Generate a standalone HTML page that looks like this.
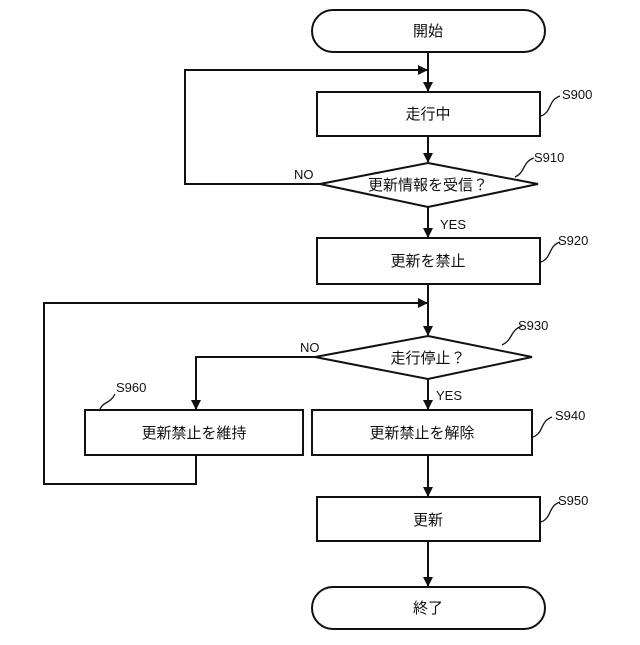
<!DOCTYPE html>
<html><head><meta charset="utf-8"><style>
html,body{margin:0;padding:0;background:#fff}
svg text{font-family:"Liberation Sans","Noto Sans CJK JP",sans-serif;fill:#111}
</style></head><body>
<svg width="640" height="640" viewBox="0 0 640 640" xmlns="http://www.w3.org/2000/svg">
<defs><marker id="a" markerWidth="10" markerHeight="10" refX="9" refY="5" orient="auto" markerUnits="userSpaceOnUse"><path d="M0,0 L10,5 L0,10 z" fill="#111"/></marker></defs>
<g stroke="#111" stroke-width="2" fill="none">
<rect x="312" y="10" width="233" height="42" rx="21"/>
<line x1="428" y1="52" x2="428" y2="91" marker-end="url(#a)"/>
<polyline points="428,184 185,184 185,70 427,70" marker-end="url(#a)"/>
<rect x="317" y="92" width="223" height="44"/>
<line x1="428" y1="136" x2="428" y2="162" marker-end="url(#a)"/>
<polygon points="428,163 538,184 428,207 320,184" fill="#fff"/>
<line x1="428" y1="207" x2="428" y2="237" marker-end="url(#a)"/>
<rect x="317" y="238" width="223" height="46"/>
<line x1="428" y1="284" x2="428" y2="335" marker-end="url(#a)"/>
<polyline points="196,455 196,484 44,484 44,303 427,303" marker-end="url(#a)"/>
<polygon points="428,336 532,357 428,379 315,357" fill="#fff"/>
<polyline points="315,357 196,357 196,409" marker-end="url(#a)"/>
<line x1="428" y1="379" x2="428" y2="409" marker-end="url(#a)"/>
<rect x="85" y="410" width="218" height="45"/>
<rect x="312" y="410" width="220" height="45"/>
<line x1="428" y1="455" x2="428" y2="496" marker-end="url(#a)"/>
<rect x="317" y="497" width="223" height="44"/>
<line x1="428" y1="541" x2="428" y2="586" marker-end="url(#a)"/>
<rect x="312" y="587" width="233" height="42" rx="21"/>
<g stroke-width="1.3">
<path d="M541,116 C552,112 548,100 560,96"/>
<path d="M515,177 C526,172 522,162 534,158"/>
<path d="M541,262 C552,258 548,246 560,242"/>
<path d="M502,345 C513,340 510,330 522,326"/>
<path d="M533,437 C544,433 540,421 552,417"/>
<path d="M541,522 C552,518 548,506 560,502"/>
<path d="M100,409 C104,401 110,404 115,394"/>
</g>
</g>
<g font-size="15" text-anchor="middle">
<text x="428" y="36">開始</text>
<text x="428" y="119">走行中</text>
<text x="428" y="190">更新情報を受信？</text>
<text x="428" y="266">更新を禁止</text>
<text x="428" y="363">走行停止？</text>
<text x="194" y="438">更新禁止を維持</text>
<text x="422" y="438">更新禁止を解除</text>
<text x="428" y="525">更新</text>
<text x="428" y="613">終了</text>
</g>
<g font-size="13">
<text x="562" y="99">S900</text>
<text x="534" y="162">S910</text>
<text x="558" y="245">S920</text>
<text x="518" y="330">S930</text>
<text x="555" y="420">S940</text>
<text x="558" y="505">S950</text>
<text x="116" y="392">S960</text>
<text x="294" y="179">NO</text>
<text x="300" y="352">NO</text>
<text x="440" y="229">YES</text>
<text x="436" y="400">YES</text>
</g>
</svg>
</body></html>
